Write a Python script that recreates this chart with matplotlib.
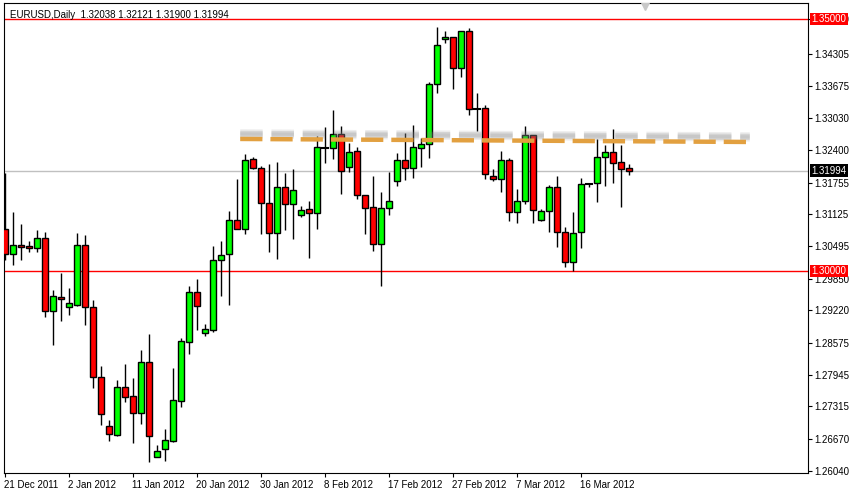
import matplotlib
matplotlib.use("Agg")
import matplotlib.pyplot as plt
from matplotlib.patches import Rectangle
import matplotlib.transforms as mtransforms

plt.rcParams['font.family'] = ['Liberation Sans', 'DejaVu Sans']

opens = [1.3083,1.3034,1.3052,1.3050,1.3046,1.3066,1.2921,1.2948,1.2929,1.2933,
         1.3052,1.2929,1.2790,1.2693,1.2675,1.2770,1.2752,1.2718,1.2820,1.2631,
         1.2647,1.2663,1.2742,1.2859,1.2958,1.2877,1.2883,1.3022,1.3034,1.3101,
         1.3083,1.3222,1.3204,1.3135,1.3075,1.3167,1.3133,1.3111,1.3123,1.3115,
         1.3244,1.3244,1.3272,1.3206,1.3238,1.3151,1.3127,1.3054,1.3125,1.3179,
         1.3220,1.3204,1.3244,1.3252,1.3371,1.3460,1.3464,1.3403,1.3476,1.3322,
         1.3324,1.3189,1.3183,1.3220,1.3117,1.3139,1.3270,1.3101,1.3119,1.3167,
         1.3077,1.3018,1.3077,1.3173,1.3175,1.3226,1.3236,1.3216,1.32038]
highs = [1.3194,1.3117,1.3093,1.3060,1.3081,1.3077,1.2962,1.2996,1.2966,1.3075,
         1.3071,1.2943,1.2812,1.2704,1.2784,1.2816,1.2788,1.2843,1.2875,1.2655,
         1.2687,1.2808,1.2867,1.2970,1.2984,1.2895,1.3050,1.3060,1.3119,1.3183,
         1.3232,1.3226,1.3208,1.3212,1.3216,1.3194,1.3202,1.3129,1.3139,1.3268,
         1.3286,1.3320,1.3288,1.3254,1.3246,1.3151,1.3188,1.3156,1.3196,1.3234,
         1.3274,1.3290,1.3264,1.3375,1.3484,1.3476,1.3464,1.3476,1.3482,1.3353,
         1.3330,1.3202,1.3238,1.3224,1.3163,1.3288,1.3270,1.3123,1.3171,1.3188,
         1.3087,1.3117,1.3185,1.3175,1.3262,1.3250,1.3282,1.3250,1.32121]
lows = [1.3022,1.3012,1.3022,1.3038,1.3038,1.2909,1.2853,1.2901,1.2913,1.2931,
        1.2893,1.2768,1.2695,1.2663,1.2673,1.2740,1.2659,1.2697,1.2621,1.2631,
        1.2623,1.2661,1.2730,1.2835,1.2883,1.2871,1.2879,1.2950,1.2933,1.3083,
        1.3073,1.3202,1.3073,1.3038,1.3024,1.3081,1.3064,1.3107,1.3026,1.3083,
        1.3214,1.3222,1.3153,1.3196,1.3143,1.3073,1.3040,1.2970,1.3111,1.3169,
        1.3181,1.3185,1.3206,1.3224,1.3353,1.3452,1.3361,1.3385,1.3310,1.3278,
        1.3183,1.3179,1.3157,1.3099,1.3095,1.3133,1.3095,1.3099,1.3077,1.3048,
        1.3008,1.3000,1.3046,1.3167,1.3137,1.3169,1.3175,1.3127,1.31900]
closes = [1.3034,1.3052,1.3048,1.3046,1.3066,1.2921,1.2950,1.2945,1.2937,1.3052,
          1.2929,1.2790,1.2716,1.2677,1.2770,1.2750,1.2718,1.2820,1.2673,1.2643,
          1.2665,1.2744,1.2861,1.2958,1.2931,1.2885,1.3022,1.3032,1.3101,1.3083,
          1.3220,1.3204,1.3135,1.3075,1.3167,1.3133,1.3161,1.3121,1.3115,1.3246,
          1.3245,1.3272,1.3198,1.3236,1.3151,1.3125,1.3054,1.3125,1.3139,1.3220,
          1.3204,1.3246,1.3252,1.3371,1.3448,1.3464,1.3403,1.3476,1.3322,1.3321,
          1.3193,1.3183,1.3220,1.3117,1.3139,1.3270,1.3121,1.3119,1.3167,1.3077,
          1.3018,1.3075,1.3173,1.3174,1.3226,1.3236,1.3214,1.3202,1.31994]

date_labels = ["21 Dec 2011", "2 Jan 2012", "11 Jan 2012", "20 Jan 2012", "30 Jan 2012",
               "8 Feb 2012", "17 Feb 2012", "27 Feb 2012", "7 Mar 2012", "16 Mar 2012"]
date_idx = [0, 8, 16, 24, 32, 40, 48, 56, 64, 72]
price_ticks = [1.35000, 1.34305, 1.33675, 1.33030, 1.32400, 1.31755, 1.31125, 1.30495,
               1.29850, 1.29220, 1.28575, 1.27945, 1.27315, 1.26670, 1.26040]
levels = [1.35000, 1.30000]
last_price = 1.31994
trend_x = [29.4, 93.1]
trend_y = [1.3262, 1.3256]

FS = 7

fig = plt.figure(figsize=(8.5, 4.93), dpi=100)
ax = fig.add_axes([4/850, 20/493, 804/850, 470/493])
ax.set_xlim(-0.125, 100.375)
ax.set_ylim(1.25993, 1.35317)

ax.axhline(last_price, color="#c0c0c0", lw=1, zorder=1)
for lv in levels:
    ax.axhline(lv, color="red", lw=1, zorder=1)

w = 0.75
for i, (o, h, l, c) in enumerate(zip(opens, highs, lows, closes)):
    ax.plot([i, i], [l, h], color="black", lw=1, zorder=2, solid_capstyle="butt")
    col = "#00ff00" if c > o else "#ff0000"
    bot, ht = min(o, c), abs(c - o)
    if ht < 0.00012:
        ax.plot([i - w/2, i + w/2], [o, o], color="black", lw=1.5, zorder=3)
    else:
        ax.add_patch(Rectangle((i - w/2, bot), w, ht, facecolor=col,
                               edgecolor="black", lw=1, zorder=3))

for k, a in [(0.0013, 0.15), (0.0010, 0.22), (0.0007, 0.15)]:
    ax.plot(trend_x, [v + k for v in trend_y], color="#808080", lw=4.5, alpha=a,
            dashes=(3.6, 1.4), zorder=4)
ax.plot(trend_x, trend_y, color="#e2a040", lw=3.2, dashes=(5, 1.8), zorder=5)

ax.plot([80], [1.3525], marker="v", color="#c8c8c8", markersize=6, zorder=5)

ax.yaxis.tick_right()
ax.set_yticks(price_ticks)
ax.set_yticklabels([f"{p:.5f}" for p in price_ticks], fontsize=FS)
ax.tick_params(axis="y", direction="out", length=3, pad=1.5)
ax.set_xticks(date_idx)
ax.set_xticklabels(date_labels, fontsize=FS, ha="left")
ax.tick_params(axis="x", direction="out", length=3, pad=2)
for t in ax.get_xticklabels():
    t.set_transform(t.get_transform() + mtransforms.ScaledTranslation(-1/100, 0, fig.dpi_scale_trans))

trans = mtransforms.blended_transform_factory(ax.transAxes, ax.transData)
for lv in levels:
    ax.text(1.0045, lv, f"{lv:.5f}", transform=trans, fontsize=FS, color="white",
            va="center", ha="left", bbox=dict(boxstyle="square,pad=0.15", fc="red", ec="none"), zorder=10)
ax.text(1.0045, last_price, f"{last_price:.5f}", transform=trans, fontsize=FS, color="white",
        va="center", ha="left", bbox=dict(boxstyle="square,pad=0.15", fc="black", ec="none"), zorder=10)

ax.text(0.008, 0.985, "EURUSD,Daily  %.5f %.5f %.5f %.5f" % (opens[-1], highs[-1], lows[-1], closes[-1]),
        transform=ax.transAxes, fontsize=FS, va="top", ha="left")

for s in ax.spines.values():
    s.set_color("black")

fig.savefig("out.png", dpi=100)
